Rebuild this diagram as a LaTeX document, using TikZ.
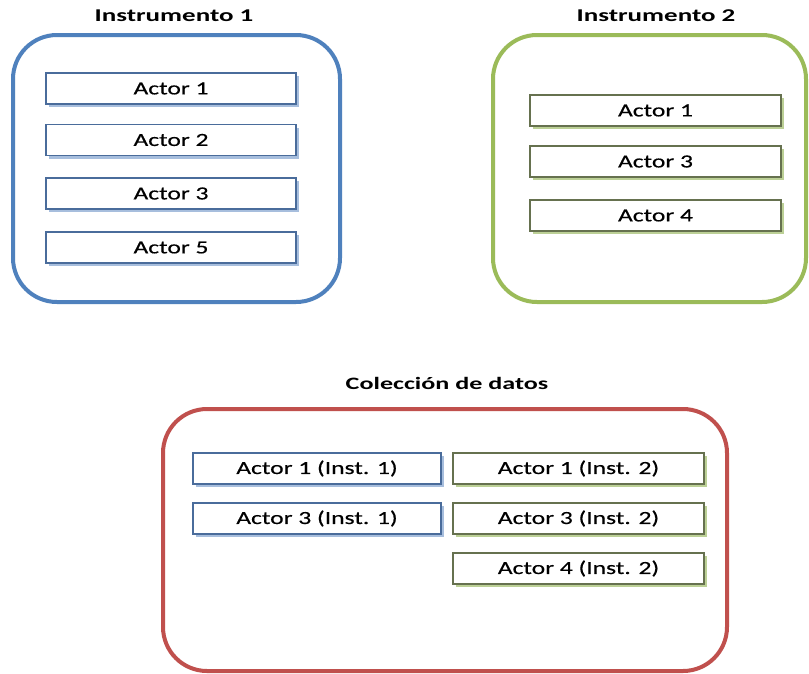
\documentclass[tikz,border=0pt]{standalone}
\usepackage{fontspec}
\setmainfont{Carlito}[FakeStretch=1.38, FakeBold=0.4]
\newfontfamily\headfont{Carlito}[FakeStretch=1.5]
\usetikzlibrary{shadows}
\definecolor{instblue}{HTML}{4F81BD}
\definecolor{instgreen}{HTML}{9BBB59}
\definecolor{instred}{HTML}{C0504D}
\definecolor{blueedge}{HTML}{4A6C9B}
\definecolor{blueshade}{HTML}{A7BEDD}
\definecolor{greenedge}{HTML}{66714F}
\definecolor{greenshade}{HTML}{BCD096}
\tikzset{
  frame/.style={line width=4pt, rounded corners=44pt},
  title/.style={font=\headfont\bfseries\fontsize{18}{21}\selectfont, inner sep=0pt},
  actor/.style={draw, line width=1.1pt, fill=white, minimum height=31pt,
    inner sep=0pt, font=\fontsize{18.5}{21}\selectfont},
  bluebox/.style={actor, draw=blueedge, minimum width=250pt,
    drop shadow={shadow xshift=3pt, shadow yshift=-3pt, fill=blueshade, opacity=1}},
  greenbox/.style={actor, draw=greenedge, minimum width=251pt,
    drop shadow={shadow xshift=3pt, shadow yshift=-3pt, fill=greenshade, opacity=1}},
}
\begin{document}
\begin{tikzpicture}[x=1pt,y=-1pt]
\useasboundingbox (0,0) rectangle (809,673);
\fill[white] (0,0) rectangle (809,673);

% Instrumento 1
\node[title] (t1) at (174,16) {Instrumento 1};
\draw[frame, instblue] (13,35) rectangle (340,302);
\node[bluebox] (a1) at (171,88.5) {Actor 1};
\node[bluebox] (a2) at (171,140) {Actor 2};
\node[bluebox] (a3) at (171,193.5) {Actor 3};
\node[bluebox] (a5) at (171,247.5) {Actor 5};

% Instrumento 2
\node[title] (t2) at (656,16) {Instrumento 2};
\draw[frame, instgreen] (493,35) rectangle (806,302);
\node[greenbox] (b1) at (655.5,110.5) {Actor 1};
\node[greenbox] (b3) at (655.5,161.5) {Actor 3};
\node[greenbox] (b4) at (655.5,215.5) {Actor 4};

% Colección de datos
\node[title, font=\headfont\bfseries\fontsize{17.4}{21}\selectfont] (t3) at (447,383) {Colección de datos};
\draw[frame, instred] (163,409) rectangle (727,671);
\node[bluebox, minimum width=248pt] (c1) at (317,468.5) {Actor 1 (Inst. 1)};
\node[bluebox, minimum width=248pt] (c3) at (317,518.5) {Actor 3 (Inst. 1)};
\node[greenbox] (d1) at (578.5,468.5) {Actor 1 (Inst. 2)};
\node[greenbox] (d3) at (578.5,518.5) {Actor 3 (Inst. 2)};
\node[greenbox] (d4) at (578.5,568.5) {Actor 4 (Inst. 2)};
\end{tikzpicture}
\end{document}
